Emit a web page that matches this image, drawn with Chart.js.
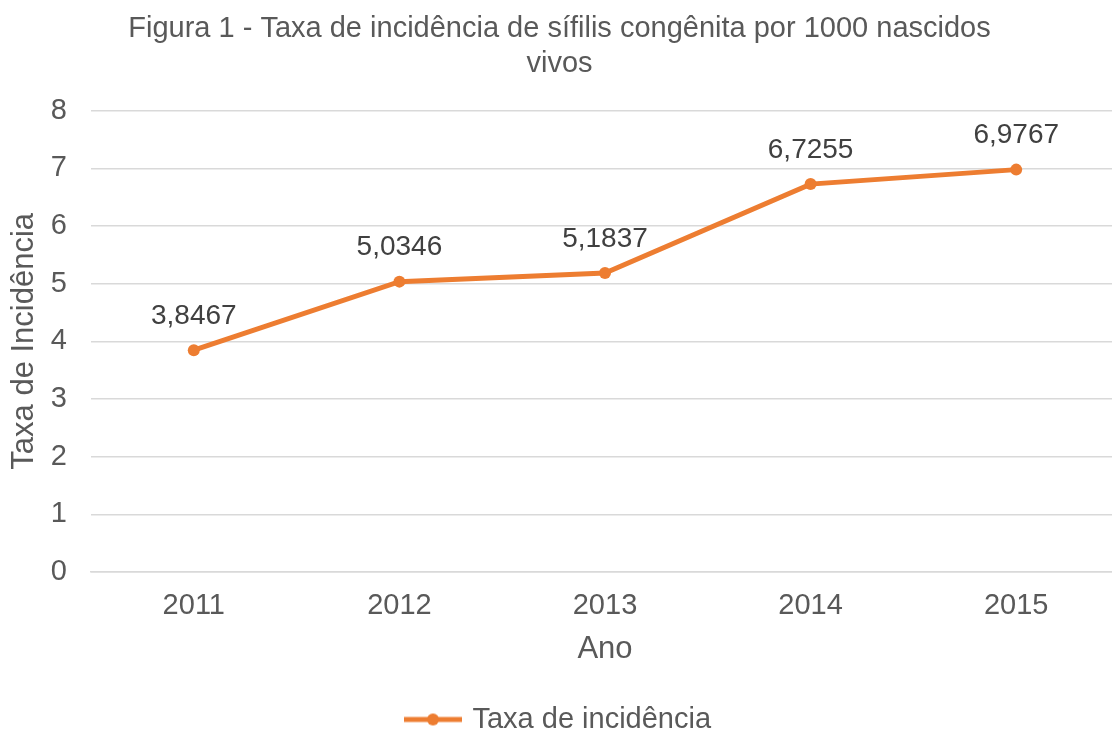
<!DOCTYPE html>
<html>
<head>
<meta charset="utf-8">
<script src="https://cdn.jsdelivr.net/npm/chart.js@4/dist/chart.umd.min.js"></script>
<style>
  html, body { margin: 0; padding: 0; background: #ffffff; overflow: hidden; }
  #wrap { position: absolute; left: 0; top: 0; width: 1130px; height: 744px; }
</style>
</head>
<body>
<div id="wrap"><canvas id="c" width="1130" height="744"></canvas></div>
<script>
const categories = ['2011', '2012', '2013', '2014', '2015'];
const incidenceValues = [3.8467, 5.0346, 5.1837, 6.7255, 6.9767];
const seriesName = 'Taxa de incidência';
const chartTitle = ['Figura 1 - Taxa de incidência de sífilis congênita por 1000 nascidos', 'vivos'];
const yAxisTitle = 'Taxa de Incidência';
const xAxisTitle = 'Ano';
const yTickMin = 0, yTickMax = 8, yTickStep = 1;

const FONT = "'Liberation Sans', Arial, sans-serif";
const TEXT = '#595959';
const ORANGE = '#ED7D31';

// legend marker: line with a dot
const marker = document.createElement('canvas');
marker.width = 58; marker.height = 14;
(function () {
  const m = marker.getContext('2d');
  m.strokeStyle = ORANGE; m.lineWidth = 5;
  m.beginPath(); m.moveTo(0, 7); m.lineTo(58, 7); m.stroke();
  m.fillStyle = ORANGE;
  m.beginPath(); m.arc(29, 7, 6, 0, Math.PI * 2); m.fill();
})();

const dataLabels = {
  id: 'dataLabels',
  afterDatasetsDraw(chart) {
    const ctx = chart.ctx;
    const meta = chart.getDatasetMeta(0);
    const ds = chart.data.datasets[0].data;
    ctx.save();
    ctx.font = '28px ' + FONT;
    ctx.fillStyle = '#404040';
    ctx.textAlign = 'center';
    ctx.textBaseline = 'middle';
    meta.data.forEach((pt, i) => {
      const txt = ds[i].toFixed(4).replace('.', ',');
      ctx.fillText(txt, pt.x, pt.y - 34);
    });
    ctx.restore();
  }
};

new Chart(document.getElementById('c'), {
  type: 'line',
  data: {
    labels: categories,
    datasets: [{
      label: seriesName,
      data: incidenceValues,
      borderColor: ORANGE,
      backgroundColor: ORANGE,
      borderWidth: 5,
      tension: 0,
      pointRadius: 6,
      pointBorderWidth: 0,
      pointBackgroundColor: ORANGE,
      pointStyle: 'circle'
    }]
  },
  options: {
    responsive: false,
    animation: false,
    devicePixelRatio: 1,
    layout: { padding: { left: 0, right: 11, top: 0, bottom: 0 } },
    plugins: {
      title: {
        display: true,
        text: chartTitle,
        color: TEXT,
        font: { family: FONT, size: 29, weight: 'normal', lineHeight: 1.2 },
        padding: { top: 12, bottom: 29 }
      },
      legend: {
        display: true,
        position: 'bottom',
        labels: {
          color: TEXT,
          font: { family: FONT, size: 29 },
          usePointStyle: true,
          pointStyleWidth: 50,
          padding: 2,
          generateLabels(chart) {
            return chart.data.datasets.map((d, i) => ({
              text: d.label,
              pointStyle: marker,
              fillStyle: ORANGE,
              strokeStyle: ORANGE,
              lineWidth: 0,
              fontColor: TEXT,
              datasetIndex: i,
              hidden: false
            }));
          }
        }
      },
      tooltip: { enabled: false }
    },
    scales: {
      x: {
        offset: true,
        afterFit(scale) { scale.height = 131; },
        grid: { display: false, drawTicks: false },
        border: { display: true, color: '#D9D9D9', width: 1.5 },
        ticks: { color: TEXT, font: { family: FONT, size: 29 }, padding: 17, maxRotation: 0 },
        title: {
          display: true, text: xAxisTitle, color: TEXT,
          font: { family: FONT, size: 31 }, padding: { top: 0, bottom: 35 }
        }
      },
      y: {
        min: yTickMin, max: yTickMax,
        afterFit(scale) { scale.width = 91; },
        grid: { color: '#D9D9D9', lineWidth: 1.5, drawTicks: false },
        border: { display: false },
        ticks: {
          stepSize: yTickStep, color: TEXT, padding: 24,
          font: { family: FONT, size: 29 }
        },
        title: {
          display: true, text: yAxisTitle, color: TEXT,
          font: { family: FONT, size: 31 }, padding: { top: 6, bottom: 0 }
        }
      }
    }
  },
  plugins: [dataLabels]
});
</script>
</body>
</html>
